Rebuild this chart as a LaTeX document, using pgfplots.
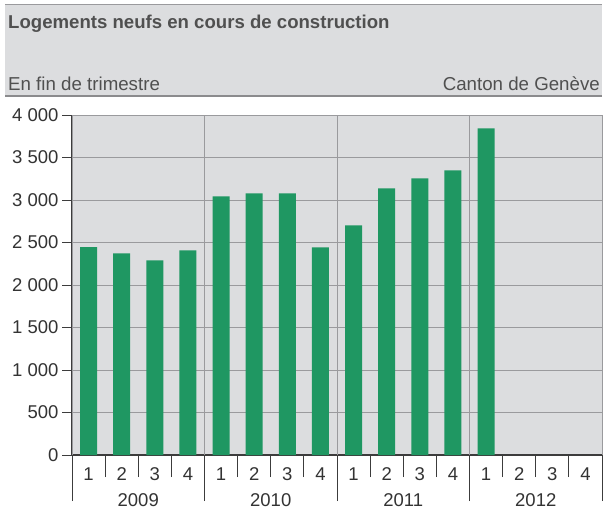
\documentclass[border=0pt]{standalone}
\usepackage{fontspec}
\setmainfont{Liberation Sans}
\usepackage{pgfplots}
\pgfplotsset{compat=1.18}
\definecolor{bggray}{HTML}{DCDDDF}
\definecolor{gridgray}{HTML}{9A9A9D}
\definecolor{bargreen}{HTML}{1F9762}
\definecolor{axisdark}{HTML}{3C3C3C}
\definecolor{titlegray}{HTML}{505050}
\definecolor{textdark}{HTML}{333333}
\tikzset{qlab/.style={anchor=base, text=textdark, inner sep=0pt, yshift=-25.7pt}}
\begin{document}
\begin{tikzpicture}[font=\fontsize{18.5}{21}\selectfont]
\path[use as bounding box] (0pt,0pt) rectangle (607pt,-510pt);
% header band
\fill[bggray] (5pt,-5pt) rectangle (602pt,-96pt);
\draw[gridgray, line width=1pt] (5pt,-5pt) -- (602pt,-5pt);
\draw[gridgray!90!black, line width=1.3pt] (5pt,-96pt) -- (602pt,-96pt);
\node[anchor=base west, inner sep=0pt, text=titlegray, font=\fontsize{18.6}{21}\selectfont\bfseries] at (8pt,-28.3pt) {Logements neufs en cours de construction};
\node[anchor=base west, inner sep=0pt, text=titlegray, font=\fontsize{18.7}{21}\selectfont] at (8pt,-90.7pt) {En fin de trimestre};
\node[anchor=base east, inner sep=0pt, text=titlegray, font=\fontsize{18.7}{21}\selectfont] at (600pt,-90.7pt) {Canton de Genève};
\begin{axis}[
  at={(72pt,-455pt)}, anchor=south west,
  scale only axis, width=530pt, height=340pt,
  xmin=-0.5, xmax=15.5, ymin=0, ymax=4000,
  axis background/.style={fill=bggray},
  axis x line*=bottom, axis y line*=left,
  axis line style={-, draw=axisdark, line width=1.2pt},
  tick align=outside,
  ytick={0,500,1000,1500,2000,2500,3000,3500,4000},
  yticklabels={0,500,1~000,1~500,2~000,2~500,3~000,3~500,4~000},
  ymajorgrids,
  major grid style={draw=gridgray, line width=1pt},
  major tick length=10pt,
  ytick style={draw=axisdark, line width=1pt},
  xtick={0,...,15},
  xticklabels={},
  major x tick style={draw=none},
  minor xtick={0.5,1.5,2.5,4.5,5.5,6.5,8.5,9.5,10.5,12.5,13.5,14.5},
  minor tick length=22pt,
  minor x tick style={draw=axisdark, line width=1pt},
  extra x ticks={-0.5,3.5,7.5,11.5,15.5},
  extra x tick labels={},
  extra x tick style={major tick length=46pt, grid=major, major x tick style={draw=axisdark, line width=1pt}},
  tick label style={font=\fontsize{18.5}{21}\selectfont, text=textdark},
  clip=false,
]
\addplot[ybar, bar width=17pt, fill=bargreen, draw=none] coordinates {
  (0,2445) (1,2373) (2,2291) (3,2408)
  (4,3044) (5,3079) (6,3077) (7,2444)
  (8,2702) (9,3137) (10,3255) (11,3349)
  (12,3843)
};
\node[qlab] at (axis cs:0,0) {1};
\node[qlab] at (axis cs:1,0) {2};
\node[qlab] at (axis cs:2,0) {3};
\node[qlab] at (axis cs:3,0) {4};
\node[qlab] at (axis cs:4,0) {1};
\node[qlab] at (axis cs:5,0) {2};
\node[qlab] at (axis cs:6,0) {3};
\node[qlab] at (axis cs:7,0) {4};
\node[qlab] at (axis cs:8,0) {1};
\node[qlab] at (axis cs:9,0) {2};
\node[qlab] at (axis cs:10,0) {3};
\node[qlab] at (axis cs:11,0) {4};
\node[qlab] at (axis cs:12,0) {1};
\node[qlab] at (axis cs:13,0) {2};
\node[qlab] at (axis cs:14,0) {3};
\node[qlab] at (axis cs:15,0) {4};
\node[anchor=base, text=textdark, inner sep=0pt] at (axis cs:1.5,0) [yshift=-51pt] {2009};
\node[anchor=base, text=textdark, inner sep=0pt] at (axis cs:5.5,0) [yshift=-51pt] {2010};
\node[anchor=base, text=textdark, inner sep=0pt] at (axis cs:9.5,0) [yshift=-51pt] {2011};
\node[anchor=base, text=textdark, inner sep=0pt] at (axis cs:13.5,0) [yshift=-51pt] {2012};
\end{axis}
\end{tikzpicture}
\end{document}
